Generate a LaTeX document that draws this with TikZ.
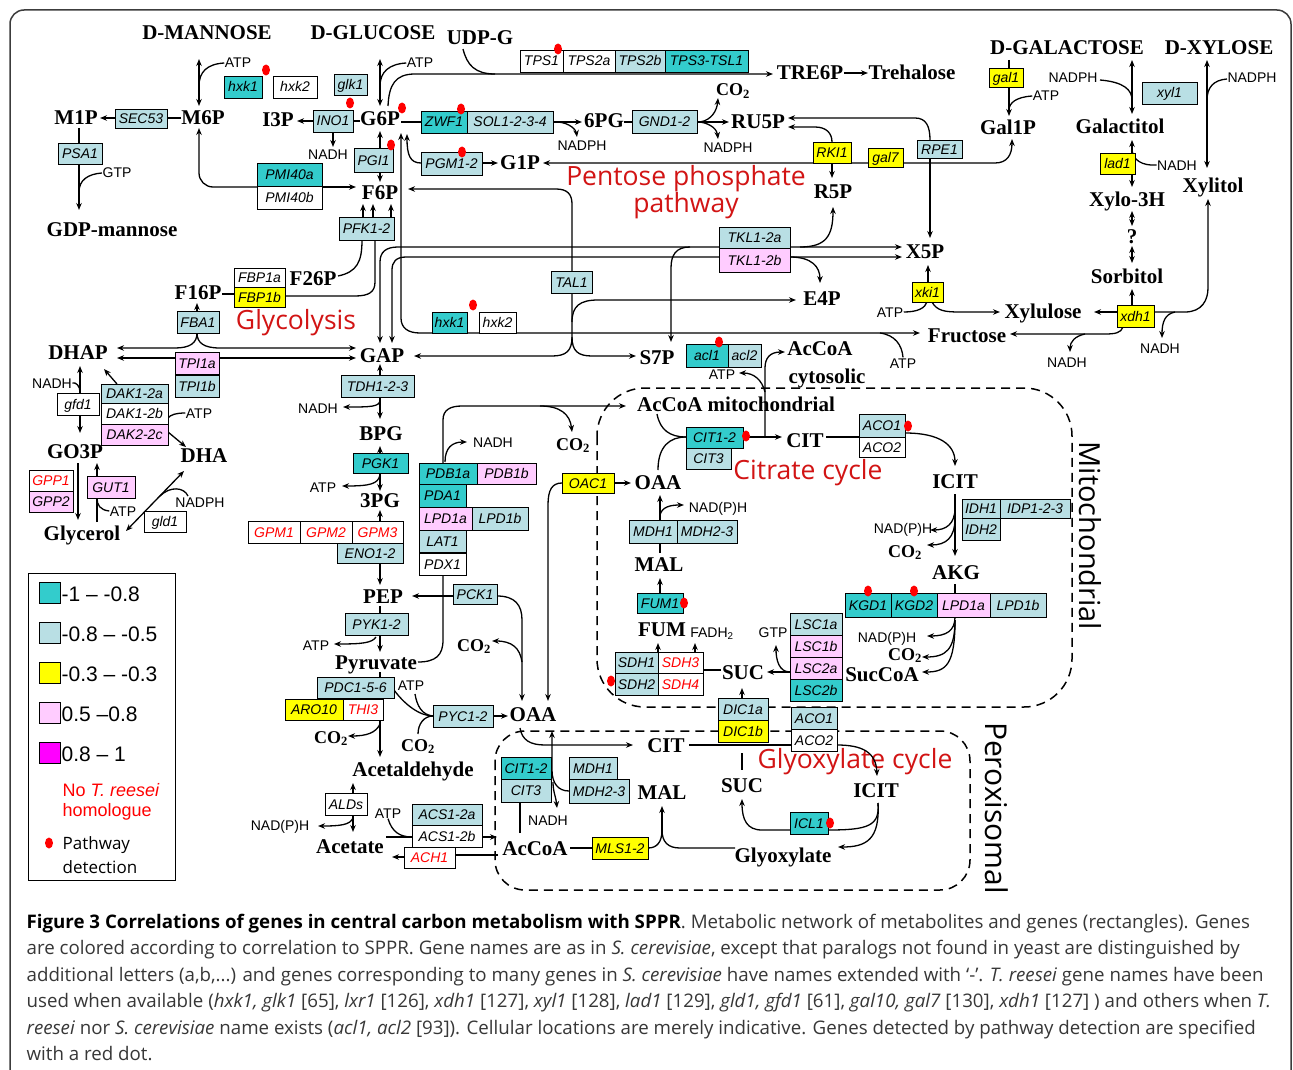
\documentclass[tikz,border=0pt]{standalone}
\usepackage{fontspec}
\setmainfont{Liberation Serif}
\newfontfamily\metf{Liberation Serif}
\newfontfamily\arialf{Liberation Sans}
\newfontfamily\openf{Open Sans}
\usetikzlibrary{arrows.meta}
\definecolor{tealc}{RGB}{51,204,204}
\definecolor{lblue}{RGB}{185,223,228}
\definecolor{yel}{RGB}{255,255,0}
\definecolor{pinkc}{RGB}{255,204,255}
\definecolor{magc}{RGB}{255,0,255}
\definecolor{ttlred}{RGB}{210,20,20}
\definecolor{capgray}{RGB}{55,55,55}
\definecolor{framegray}{RGB}{60,60,60}
\tikzset{
  met/.style={font=\metf\bfseries\fontsize{21}{21}\selectfont, inner sep=0pt, text height=14pt, text depth=0pt},
  cotwo/.style={font=\metf\bfseries\fontsize{18}{18}\selectfont, inner sep=0pt, text height=12pt, text depth=0pt},
  gene/.style={draw=black, line width=0.9pt, inner sep=0pt, font=\arialf\itshape\fontsize{14}{14}\selectfont, text height=10pt, text depth=0pt},
  cof/.style={font=\arialf\fontsize{14}{14}\selectfont, inner sep=0pt, text height=10pt, text depth=0pt},
  ttl/.style={font=\openf\fontsize{26.5}{24}\selectfont, text=ttlred, inner sep=0pt, align=center},
  captxt/.style={font=\openf\fontsize{18.7}{20}\selectfont, text=capgray, inner sep=0pt},
  legtxt/.style={font=\arialf\fontsize{21}{21}\selectfont, inner sep=0pt, anchor=west},
  dashbox/.style={line width=1.5pt, dash pattern=on 9pt off 6pt},
  >={Stealth[length=7pt,width=5.5pt]}
}
\newcommand{\gb}[7]{\node[gene,fill=#6,minimum width={(#4-#2)*1pt},minimum height={(#5-#3)*1pt}] (#1) at ({(#2+#4)/2},{(#3+#5)/2}) {#7};}
\newcommand{\rdot}[2]{\fill[red] (#1,#2) ellipse [x radius=4pt, y radius=5.5pt];}
\newcommand{\COtwo}{CO\textsubscript{2}}
\begin{document}
\begin{tikzpicture}[x=1pt,y=-1pt,line width=1.3pt]
\useasboundingbox (0,0) rectangle (1293,1070);
\fill[white] (0,0) rectangle (1293,1070);
% outer frame
\draw[framegray, line width=1.5pt, rounded corners=14] (10,1075) -- (10,10) -- (1291,10) -- (1291,1075);

% compartments
\draw[dashbox, rounded corners=48] (597,388) rectangle (1072,707);
\draw[dashbox, rounded corners=30] (495,731) rectangle (970,890);

% ---------------- metabolites ----------------
\node[met] (dman) at (207,33) {D-MANNOSE};
\node[met] (dglc) at (373,33) {D-GLUCOSE};
\node[met] (udpg) at (480,38) {UDP-G};
\node[met] (dgal) at (1067,48) {D-GALACTOSE};
\node[met] (dxyl) at (1219,48) {D-XYLOSE};
\node[met] (m1p) at (76,118) {M1P};
\node[met] (m6p) at (203,118) {M6P};
\node[met] (i3p) at (278,120) {I3P};
\node[met] (g6p) at (380,119) {G6P};
\node[met] (pg6) at (604,121) {6PG};
\node[met] (ru5p) at (758,122) {RU5P};
\node[met] (tre6p) at (810,73) {TRE6P};
\node[met] (treh) at (912,73) {Trehalose};
\node[met] (gal1p) at (1008,128) {Gal1P};
\node[met] (galol) at (1120,127) {Galactitol};
\node[met] (xylol) at (1213,186) {Xylitol};
\node[met] (xylo3h) at (1127,199) {Xylo-3H};
\node[met] (qm) at (1132,236) {?};
\node[met] (sorb) at (1127,276) {Sorbitol};
\node[met] (g1p) at (520,162) {G1P};
\node[met] (r5p) at (833,191) {R5P};
\node[met] (f6p) at (380,192) {F6P};
\node[met] (gdpm) at (112,229) {GDP-mannose};
\node[met] (x5p) at (925,251) {X5P};
\node[met] (f26p) at (313,278) {F26P};
\node[met] (f16p) at (198,292) {F16P};
\node[met] (e4p) at (822,298) {E4P};
\node[met] (xylu) at (1043,311) {Xylulose};
\node[met] (fruc) at (967,335) {Fructose};
\node[met] (dhap) at (78,352) {DHAP};
\node[met] (gap) at (382,355) {GAP};
\node[met] (s7p) at (657,357) {S7P};
\node[met] (accoac) at (820,348) {AcCoA};
\node[met] (cytos) at (827,376) {cytosolic};
\node[met] (accoam) at (736,404) {AcCoA mitochondrial};
\node[met] (bpg) at (381,433) {BPG};
\node[met] (citm) at (805,440) {CIT};
\node[met] (go3p) at (75,451) {GO3P};
\node[met] (dha) at (204,455) {DHA};
\node[met] (oaam) at (658,482) {OAA};
\node[met] (icitm) at (955,481) {ICIT};
\node[met] (pg3) at (380,500) {3PG};
\node[met] (glyc) at (82,533) {Glycerol};
\node[met] (malm) at (659,564) {MAL};
\node[met] (akg) at (956,572) {AKG};
\node[met] (pep) at (383,596) {PEP};
\node[met] (fum) at (662,629) {FUM};
\node[met] (sucm) at (743,672) {SUC};
\node[met] (succoa) at (882,674) {SucCoA};
\node[met] (pyr) at (376,662) {Pyruvate};
\node[met] (oaac) at (533,714) {OAA};
\node[met] (citp) at (666,745) {CIT};
\node[met] (acald) at (413,769) {Acetaldehyde};
\node[met] (sucp) at (742,785) {SUC};
\node[met] (malp) at (662,792) {MAL};
\node[met] (icitp) at (876,790) {ICIT};
\node[met] (acet) at (350,846) {Acetate};
\node[met] (accoap) at (535,848) {AcCoA};
\node[met] (glyox) at (783,855) {Glyoxylate};

% CO2
\node[cotwo] (co2a) at (733,90) {\COtwo};
\node[cotwo] (co2b) at (573,444) {\COtwo};
\node[cotwo] (co2c) at (474,645) {\COtwo};
\node[cotwo] (co2d) at (418,745) {\COtwo};
\node[cotwo] (co2e) at (331,737) {\COtwo};
\node[cotwo] (co2f) at (905,551) {\COtwo};
\node[cotwo] (co2g) at (905,654) {\COtwo};

% cofactors
\node[cof] (atp1) at (238,63) {ATP};
\node[cof] (atp2) at (420,63) {ATP};
\node[cof] (gtp1) at (117,173) {GTP};
\node[cof] (nadh1) at (328,155) {NADH};
\node[cof] (nadph1) at (582,145) {NADPH};
\node[cof] (nadph2) at (728,148) {NADPH};
\node[cof] (nadph3) at (1073,78) {NADPH};
\node[cof] (atp3) at (1046,96) {ATP};
\node[cof] (nadh2) at (1177,165) {NADH};
\node[cof] (nadph4) at (1252,78) {NADPH};
\node[cof] (atp4) at (890,312) {ATP};
\node[cof] (nadh3) at (1067,362) {NADH};
\node[cof] (nadh4) at (1160,348) {NADH};
\node[cof] (atp5) at (903,363) {ATP};
\node[cof] (atp6) at (722,374) {ATP};
\node[cof] (nadh5) at (52,383) {NADH};
\node[cof] (atp7) at (199,413) {ATP};
\node[cof] (nadph5) at (200,502) {NADPH};
\node[cof] (atp8) at (123,511) {ATP};
\node[cof] (nadh6) at (318,408) {NADH};
\node[cof] (nadh7) at (493,442) {NADH};
\node[cof] (atp9) at (323,487) {ATP};
\node[cof] (nadp1) at (718,507) {NAD(P)H};
\node[cof] (nadp2) at (903,528) {NAD(P)H};
\node[cof] (nadp3) at (887,637) {NAD(P)H};
\node[cof] (fadh) at (712,632) {FADH\textsubscript{2}};
\node[cof] (gtp2) at (773,632) {GTP};
\node[cof] (atp10) at (316,645) {ATP};
\node[cof] (atp11) at (411,685) {ATP};
\node[cof] (nadh8) at (548,820) {NADH};
\node[cof] (nadp4) at (280,825) {NAD(P)H};
\node[cof] (atp12) at (388,813) {ATP};

% titles
\node[ttl] (tglyc) at (296,323) {Glycolysis};
\node[ttl] (tppp) at (686,192) {Pentose phosphate\\pathway};
\node[ttl] (tcit) at (808,473) {Citrate cycle};
\node[ttl] (tglx) at (855,762) {Glyoxylate cycle};
\node[font=\openf\fontsize{29}{29}\selectfont, rotate=-90, inner sep=0pt] (tmito) at (1090,536) {Mitochondrial};
\node[font=\openf\fontsize{30}{30}\selectfont, rotate=-90, inner sep=0pt] (tperox) at (997,808) {Peroxisomal};

% ---------------- connectors ----------------
% mannose
\draw[<->] (199,59) -- (199,106);
\draw (atp1.west) .. controls (207,64) and (199,72) .. (199,86);
\draw[->] (115,118) -- (100,118);
\draw (181,118) -- (167,118);
\draw (79,128) -- (79,143);
\draw[->] (79,164) -- (79,210);
\draw (gtp1.west) .. controls (88,174) and (79,180) .. (79,192);
\draw[->, rounded corners=14] (257,187) -- (199,187) -- (199,128);
\draw[->] (322,187) -- (356,187);
% glucose
\draw[<->] (380,59) -- (380,106);
\draw (atp2.west) .. controls (389,64) and (380,72) .. (380,86);
\draw[->] (388,106) .. controls (389,85) and (395,74) .. (415,74) -- (773,74);
\draw (463,49) .. controls (467,65) and (475,74) .. (495,74);
\draw[->] (tre6p.east) -- (treh.west);
% INO1
\draw (360,121) -- (353,121);
\draw[->] (313,121) -- (297,121);
\draw[->] (333,132) -- (333,147);
% PGI
\draw[->] (380,148) -- (380,131);
\draw[->] (380,172) -- (380,182);
% ZWF / 6PG
\draw (401,122) -- (421,122);
\draw[->] (553,122) -- (582,122);
\draw[->] (558,122) .. controls (570,123) and (576,130) .. (577,137);
\draw (624,122) -- (632,122);
\draw[->] (697,122) -- (729,122);
\draw[->] (700,122) .. controls (712,120) and (717,110) .. (718,98);
\draw[->] (700,122) .. controls (712,124) and (717,130) .. (718,139);
% PGM
\draw[->] (421,163) .. controls (410,163) and (407,155) .. (407,134);
\draw[->] (482,163) -- (498,163);
% G1P <-> Gal1P
\draw[<->] (543,163) -- (995,163) .. controls (1007,163) and (1012,155) .. (1012,139);
% RU5P
\draw[<-] (788,118) -- (915,118) .. controls (926,118) and (930,126) .. (930,140);
\draw[<-] (788,127) -- (815,127) .. controls (826,127) and (832,133) .. (832,142);
\draw[->] (832,163) -- (832,178);
\draw[->] (930,158) -- (930,238);
% galactose
\draw[->] (1009,60) -- (1009,116);
\draw (atp3.west) .. controls (1016,97) and (1009,103) .. (1009,110);
\draw[<->] (1132,60) -- (1132,114);
\draw (1100,80) .. controls (1124,82) and (1132,90) .. (1132,100);
\draw[<->] (1132,140) -- (1132,187);
\draw (nadh2.west) .. controls (1142,166) and (1133,160) .. (1132,150);
\draw[<->] (1132,211) -- (1132,226);
\draw[<->] (1132,246) -- (1132,263);
% xylose
\draw[<->] (1207,60) -- (1207,168);
\draw (1227,79) .. controls (1213,80) and (1207,88) .. (1207,100);
\draw[->] (1154,312) -- (1185,312) .. controls (1202,312) and (1208,300) .. (1208,288) -- (1208,199);
\draw[->] (1175,312) .. controls (1165,314) and (1162,322) .. (1162,338);
\draw[->] (1117,312) -- (1094,312);
\draw[->] (1132,305) -- (1132,289);
\draw[->] (1123,327) .. controls (1121,333) and (1115,334) .. (1105,334) -- (1010,334);
\draw[->] (1085,334) .. controls (1075,336) and (1070,342) .. (1070,352);
% xki1
\draw[->] (928,282) -- (928,265);
\draw[->] (932,302) .. controls (937,311) and (945,312) .. (960,312) -- (1000,312);
\draw (atp4.east) .. controls (918,312) and (925,308) .. (927,302);
% TKL lines
\draw[<->] (380,343) -- (380,262) .. controls (380,252) and (386,247) .. (398,247) -- (902,247);
\draw[<->] (392,343) -- (392,270) .. controls (392,262) and (396,257) .. (406,257) -- (902,257);
\draw[->] (800,247) .. controls (826,247) and (833,236) .. (833,207);
\draw[->] (790,257) .. controls (812,257) and (820,267) .. (820,283);
\draw[->] (690,247) .. controls (676,247) and (671,255) .. (671,268) -- (671,342);
% TAL1
\draw[->] (572,271) -- (572,204) .. controls (572,194) and (567,189) .. (556,189) -- (408,189);
\draw[->] (572,293) -- (572,337) .. controls (572,351) and (566,356) .. (552,356) -- (414,356);
\draw[->] (572,337) .. controls (572,351) and (578,356) .. (592,356) -- (636,356);
\draw[->] (572,322) .. controls (572,306) and (580,300) .. (598,300) -- (796,300);
% hxk loop
\draw[<->] (401,133) -- (401,318) .. controls (401,328) and (408,333) .. (420,333) -- (920,333);
\draw (atp5.north) .. controls (902,345) and (895,335) .. (880,333);
% PFK / FBP
\draw[->] (363,217) -- (363,204);
\draw[->] (373,217) -- (373,204);
\draw[->] (391,217) -- (391,204);
\draw (362,240) .. controls (362,262) and (357,272) .. (338,276);
\draw (375,240) -- (375,282) .. controls (375,292) and (369,296) .. (355,296) -- (285,296);
\draw (222,294) -- (234,294);
% FBA / TPI
\draw[->] (197,311) -- (197,303);
\draw[->] (197,333) .. controls (197,343) and (190,348) .. (175,348) -- (117,348);
\draw[->] (197,333) .. controls (197,343) and (204,348) .. (220,348) -- (356,348);
\draw[<->] (117,358) -- (356,358);
% DHAP / GO3P / glycerol
\draw[<->] (80,366) -- (80,433);
\draw (nadh5.east) .. controls (76,382) and (80,386) .. (80,392);
\draw[->] (117,384) -- (104,369);
\draw[->] (168,432) -- (186,447);
\draw (atp7.west) .. controls (176,413) and (170,415) .. (168,418);
\draw[->] (78,463) -- (78,520);
\draw[->] (97,522) -- (97,463);
\draw (atp8.west) .. controls (100,510) and (97,505) .. (97,498);
\draw[<->] (126,531) -- (184,471);
\draw (160,496) .. controls (170,486) and (184,487) .. (188,496);
% glycolysis lower
\draw[->] (380,375) -- (380,364);
\draw[->] (380,397) -- (380,419);
\draw[->] (380,400) .. controls (380,407) and (370,407) .. (343,407);
\draw[->] (380,453) -- (380,446);
\draw[->] (380,473) -- (380,491);
\draw[->] (380,475) .. controls (378,484) and (370,486) .. (342,486);
\draw[->] (380,521) -- (380,510);
\draw[->] (380,563) -- (380,585);
\draw[->] (453,596) -- (412,596);
\draw (380,606) -- (380,613);
\draw[->] (380,635) -- (380,652);
\draw[->] (376,637) .. controls (372,643) and (362,644) .. (334,644);
% PDH
\draw (418,662) .. controls (436,662) and (443,655) .. (443,640) -- (443,575);
\draw[->] (443,463) -- (443,420) .. controls (443,410) and (450,406) .. (462,406) -- (626,406);
\draw[->] (540,406) .. controls (560,406) and (570,414) .. (572,432);
\draw[->] (445,462) .. controls (445,448) and (452,442) .. (467,442);
% PCK / OAC
\draw[->] (497,596) .. controls (515,596) and (522,605) .. (522,620) -- (522,701);
\draw[->] (522,662) .. controls (520,648) and (512,641) .. (492,641);
\draw[->] (614,483) -- (631,483);
\draw[->] (562,483) .. controls (552,483) and (548,490) .. (548,505) -- (548,701);
% fermentation
\draw (380,672) -- (380,677);
\draw[->] (380,720) -- (380,757);
\draw[->] (380,724) .. controls (376,733) and (366,736) .. (348,736);
\draw (394,690) .. controls (405,705) and (420,716) .. (433,716);
\draw (415,694) .. controls (417,706) and (422,715) .. (433,716);
\draw (418,734) .. controls (418,724) and (424,716) .. (433,716);
\draw[->] (493,716) -- (508,716);
\draw[->] (353,793) -- (353,783);
\draw[->] (353,815) -- (353,832);
\draw[->] (353,818) .. controls (350,825) and (340,826) .. (318,826);
\draw[->] (386,837) -- (497,837);
\draw (atp12.south) .. controls (392,832) and (400,837) .. (412,837);
\draw[->] (404,857) -- (392,857);
\draw (498,855) -- (455,855);
% peroxisome
\draw (520,833) -- (520,802);
\draw[->] (520,728) .. controls (522,740) and (530,745) .. (545,745) -- (633,745);
\draw[->] (569,791) .. controls (558,791) and (552,783) .. (552,770) -- (552,731);
\draw[->] (553,782) .. controls (553,792) and (556,797) .. (557,808);
\draw (570,848) -- (592,848);
\draw (648,848) .. controls (657,848) and (662,842) .. (662,830);
\draw[->] (662,835) -- (662,806);
\draw (735,848) -- (680,848) .. controls (668,848) and (662,842) .. (662,830);
\draw (689,745) -- (791,745);
\draw[->] (837,745) .. controls (862,745) and (876,752) .. (877,776);
\draw (742,753) -- (742,770);
\draw[->] (790,830) -- (762,830) .. controls (747,830) and (742,820) .. (742,799);
\draw (878,803) .. controls (880,826) and (868,830) .. (828,830);
\draw[->] (878,803) .. controls (880,840) and (866,847) .. (838,847);
% mitochondrion
\draw (657,414) .. controls (660,430) and (670,437) .. (686,437);
\draw (658,470) .. controls (658,446) and (670,437) .. (686,437);
\draw[->] (743,437) -- (782,437);
\draw[->] (765,437) -- (765,368) .. controls (765,358) and (770,352) .. (785,352);
\draw[->] (765,392) .. controls (762,380) and (754,373) .. (739,373);
\draw (826,437) -- (859,437);
\draw[->] (905,433) .. controls (940,433) and (955,445) .. (955,466);
\draw[->] (955,494) -- (955,556);
\draw[->] (955,508) .. controls (955,524) and (946,530) .. (930,530);
\draw[->] (955,518) .. controls (955,538) and (946,545) .. (927,545);
\draw (955,584) -- (955,593);
\draw[->] (955,617) .. controls (955,631) and (946,636) .. (927,636);
\draw[->] (955,620) .. controls (955,650) and (946,657) .. (922,657);
\draw[->] (955,620) .. controls (955,665) and (946,672) .. (922,672);
\draw[->] (790,672) -- (767,672);
\draw[->] (790,672) .. controls (779,672) and (776,660) .. (776,645);
\draw (721,670) -- (703,670);
\draw[->] (658,652) -- (658,643);
\draw[->] (695,652) -- (695,643);
\draw[->] (660,593) -- (660,578);
\draw (660,553) -- (660,543);
\draw[->] (660,520) -- (660,495);
\draw[->] (660,515) .. controls (662,507) and (670,505) .. (684,505);
\draw[->] (742,698) -- (742,688);

% ---------------- genes ----------------
\gb{hxkA}{224}{76}{262}{98}{tealc}{hxk1}
\gb{hxkB}{273}{76}{317}{98}{white}{hxk2}
\gb{glk}{334}{74}{367}{95}{lblue}{glk1}
\gb{sec}{115}{109}{167}{128}{lblue}{SEC53}
\gb{ino}{313}{110}{353}{132}{lblue}{INO1}
\gb{psa}{58}{143}{102}{164}{lblue}{PSA1}
\gb{pmia}{257}{163}{322}{186}{tealc}{PMI40a}
\gb{pmib}{257}{186}{322}{209}{white}{PMI40b}
\gb{pgi}{354}{148}{393}{172}{lblue}{PGI1}
\gb{zwf}{421}{111}{467}{133}{tealc}{ZWF1}
\gb{sol}{467}{111}{553}{133}{lblue}{SOL1-2-3-4}
\gb{pgm}{421}{152}{482}{175}{lblue}{PGM1-2}
\gb{tpsa}{520}{50}{563}{72}{white}{TPS1}
\gb{tpsb}{563}{50}{615}{72}{white}{TPS2a}
\gb{tpsc}{615}{50}{665}{72}{lblue}{TPS2b}
\gb{tpsd}{665}{50}{748}{72}{tealc}{TPS3-TSL1}
\gb{gnd}{632}{110}{697}{133}{lblue}{GND1-2}
\gb{rki}{813}{142}{851}{163}{yel}{RKI1}
\gb{galS}{868}{148}{903}{167}{yel}{gal7}
\gb{rpe}{917}{140}{962}{158}{lblue}{RPE1}
\gb{galO}{989}{68}{1023}{87}{yel}{gal1}
\gb{xyl}{1142}{82}{1197}{104}{lblue}{xyl1}
\gb{lad}{1100}{153}{1135}{174}{yel}{lad1}
\gb{pfk}{339}{217}{394}{240}{lblue}{PFK1-2}
\gb{fbpa}{234}{268}{285}{287}{white}{FBP1a}
\gb{fbpb}{234}{287}{285}{307}{yel}{FBP1b}
\gb{tkla}{719}{227}{790}{248}{lblue}{TKL1-2a}
\gb{tklb}{719}{248}{790}{272}{pinkc}{TKL1-2b}
\gb{tal}{551}{271}{592}{293}{lblue}{TAL1}
\gb{xki}{912}{282}{943}{302}{yel}{xki1}
\gb{fba}{177}{311}{219}{333}{lblue}{FBA1}
\gb{hxkC}{432}{312}{467}{333}{tealc}{hxk1}
\gb{hxkD}{479}{312}{516}{333}{white}{hxk2}
\gb{xdh}{1117}{305}{1154}{327}{yel}{xdh1}
\gb{acla}{686}{344}{728}{367}{tealc}{acl1}
\gb{aclb}{728}{344}{761}{367}{lblue}{acl2}
\gb{tpia}{175}{352}{219}{374}{pinkc}{TPI1a}
\gb{tpib}{175}{375}{219}{397}{lblue}{TPI1b}
\gb{tdh}{341}{375}{414}{397}{lblue}{TDH1-2-3}
\gb{daka}{101}{384}{168}{403}{lblue}{DAK1-2a}
\gb{dakb}{101}{403}{168}{424}{white}{DAK1-2b}
\gb{dakc}{101}{424}{168}{445}{pinkc}{DAK2-2c}
\gb{gfd}{57}{393}{99}{415}{white}{gfd1}
\gb{acoA}{859}{414}{905}{437}{lblue}{ACO1}
\gb{acoB}{859}{437}{905}{457}{white}{ACO2}
\gb{citA}{686}{427}{743}{448}{tealc}{CIT1-2}
\gb{citB}{686}{448}{731}{469}{lblue}{CIT3}
\gb{pgk}{353}{453}{408}{473}{tealc}{PGK1}
\gb{pdba}{419}{463}{477}{484}{tealc}{PDB1a}
\gb{pdbb}{477}{463}{536}{484}{pinkc}{PDB1b}
\gb{pda}{419}{484}{466}{507}{tealc}{PDA1}
\gb{lpdA}{419}{507}{472}{530}{pinkc}{LPD1a}
\gb{lpdB}{472}{507}{528}{530}{lblue}{LPD1b}
\gb{lat}{419}{530}{466}{552}{lblue}{LAT1}
\gb{pdx}{419}{553}{466}{575}{white}{PDX1}
\gb{oac}{562}{473}{614}{493}{yel}{OAC1}
\gb{gppa}{29}{470}{73}{491}{white}{\textcolor{red}{GPP1}}
\gb{gppb}{29}{491}{73}{512}{pinkc}{GPP2}
\gb{gut}{87}{476}{135}{498}{pinkc}{GUT1}
\gb{gld}{144}{511}{186}{532}{white}{gld1}
\gb{idha}{962}{499}{1000}{518}{lblue}{IDH1}
\gb{idp}{1000}{499}{1070}{518}{lblue}{IDP1-2-3}
\gb{idhb}{962}{518}{1000}{540}{lblue}{IDH2}
\gb{mdhA}{629}{520}{677}{543}{lblue}{MDH1}
\gb{mdhB}{677}{520}{737}{543}{lblue}{MDH2-3}
\gb{gpma}{248}{521}{300}{543}{white}{\textcolor{red}{GPM1}}
\gb{gpmb}{300}{521}{352}{543}{white}{\textcolor{red}{GPM2}}
\gb{gpmc}{352}{521}{403}{543}{white}{\textcolor{red}{GPM3}}
\gb{eno}{337}{543}{403}{563}{lblue}{ENO1-2}
\gb{pck}{453}{584}{497}{604}{lblue}{PCK1}
\gb{kgda}{845}{593}{891}{617}{tealc}{KGD1}
\gb{kgdb}{891}{593}{937}{617}{tealc}{KGD2}
\gb{lpdC}{937}{593}{990}{617}{pinkc}{LPD1a}
\gb{lpdD}{990}{593}{1046}{617}{lblue}{LPD1b}
\gb{fum1}{637}{593}{683}{613}{tealc}{FUM1}
\gb{pyk}{345}{613}{408}{635}{lblue}{PYK1-2}
\gb{lsca}{790}{613}{842}{635}{lblue}{LSC1a}
\gb{lscb}{790}{635}{842}{657}{pinkc}{LSC1b}
\gb{lscc}{790}{657}{842}{679}{pinkc}{LSC2a}
\gb{lscd}{790}{679}{842}{701}{tealc}{LSC2b}
\gb{sdha}{615}{652}{658}{673}{lblue}{SDH1}
\gb{sdhc}{658}{652}{703}{673}{white}{\textcolor{red}{SDH3}}
\gb{sdhb}{615}{673}{658}{695}{lblue}{SDH2}
\gb{sdhd}{658}{673}{703}{695}{white}{\textcolor{red}{SDH4}}
\gb{pdc}{317}{677}{394}{698}{lblue}{PDC1-5-6}
\gb{aro}{285}{699}{343}{720}{yel}{ARO10}
\gb{thi}{343}{699}{383}{720}{white}{\textcolor{red}{THI3}}
\gb{dica}{718}{698}{768}{720}{lblue}{DIC1a}
\gb{dicb}{718}{720}{768}{742}{yel}{DIC1b}
\gb{acoC}{791}{707}{837}{729}{lblue}{ACO1}
\gb{acoD}{791}{729}{837}{751}{white}{ACO2}
\gb{pyc}{433}{705}{493}{727}{lblue}{PYC1-2}
\gb{citC}{501}{757}{551}{779}{tealc}{CIT1-2}
\gb{citD}{501}{779}{551}{802}{lblue}{CIT3}
\gb{mdhC}{569}{757}{617}{779}{lblue}{MDH1}
\gb{mdhD}{569}{779}{629}{803}{lblue}{MDH2-3}
\gb{ald}{325}{793}{367}{815}{white}{ALDs}
\gb{acsa}{412}{804}{482}{825}{lblue}{ACS1-2a}
\gb{acsb}{412}{825}{482}{847}{white}{ACS1-2b}
\gb{icl}{790}{812}{828}{834}{tealc}{ICL1}
\gb{mls}{592}{837}{648}{859}{yel}{MLS1-2}
\gb{ach}{404}{847}{455}{868}{white}{\textcolor{red}{ACH1}}

% red dots (pathway detection)
\rdot{266}{70} \rdot{350}{103} \rdot{402}{108} \rdot{391}{145}
\rdot{461}{109} \rdot{462}{152} \rdot{558}{49} \rdot{473}{305}
\rdot{719}{342} \rdot{746}{436} \rdot{908}{426} \rdot{868}{591}
\rdot{914}{591} \rdot{684}{603} \rdot{611}{681} \rdot{830}{823}

% ---------------- legend ----------------
\draw[line width=1pt] (28,573) rectangle (175,880);
\node[draw, line width=1pt, fill=tealc, minimum size=21pt, inner sep=0pt] (s1) at (50,593) {};
\node[draw, line width=1pt, fill=lblue, minimum size=21pt, inner sep=0pt] (s2) at (50,633) {};
\node[draw, line width=1pt, fill=yel, minimum size=21pt, inner sep=0pt] (s3) at (50,673) {};
\node[draw, line width=1pt, fill=pinkc, minimum size=21pt, inner sep=0pt] (s4) at (50,713) {};
\node[draw, line width=1pt, fill=magc, minimum size=21pt, inner sep=0pt] (s5) at (50,753) {};
\node[legtxt] (l1) at (61,594) {-1 – -0.8};
\node[legtxt] (l2) at (61,634) {-0.8 – -0.5};
\node[legtxt] (l3) at (61,674) {-0.3 – -0.3};
\node[legtxt] (l4) at (61,714) {0.5 –0.8};
\node[legtxt] (l5) at (61,754) {0.8 – 1};
\node[font=\arialf\fontsize{18}{18}\selectfont, text=red, anchor=west, inner sep=0pt] (l6) at (62,790) {No \textit{T. reesei}};
\node[font=\arialf\fontsize{18}{18}\selectfont, text=red, anchor=west, inner sep=0pt] (l7) at (62,812) {homologue};
\rdot{49}{843}
\node[font=\openf\fontsize{17}{17}\selectfont, anchor=west, inner sep=0pt] (l8) at (62,845) {Pathway};
\node[font=\openf\fontsize{17}{17}\selectfont, anchor=west, inner sep=0pt] (l9) at (62,867) {detection};

% ---------------- caption ----------------
\node[captxt, anchor=base west] (c1) at (26,928) {\textbf{\color{black}Figure 3 Correlations of genes in central carbon metabolism with SPPR}. Metabolic network of metabolites and genes (rectangles). Genes};
\node[captxt, anchor=base west] (c2) at (26,954) {are colored according to correlation to SPPR. Gene names are as in \textit{S. cerevisiae}, except that paralogs not found in yeast are distinguished by};
\node[captxt, anchor=base west] (c3) at (26,981) {additional letters (a,b,...) and genes corresponding to many genes in \textit{S. cerevisiae} have names extended with ‘-’. \textit{T. reesei} gene names have been};
\node[captxt, anchor=base west] (c4) at (26,1007) {used when available (\textit{hxk1, glk1} [65], \textit{lxr1} [126], \textit{xdh1} [127], \textit{xyl1} [128], \textit{lad1} [129], \textit{gld1, gfd1} [61], \textit{gal10, gal7} [130], \textit{xdh1} [127] ) and others when \textit{T.}};
\node[captxt, anchor=base west] (c5) at (26,1034) {\textit{reesei} nor \textit{S. cerevisiae} name exists (\textit{acl1, acl2} [93]). Cellular locations are merely indicative. Genes detected by pathway detection are specified};
\node[captxt, anchor=base west] (c6) at (26,1060) {with a red dot.};
\end{tikzpicture}
\end{document}
